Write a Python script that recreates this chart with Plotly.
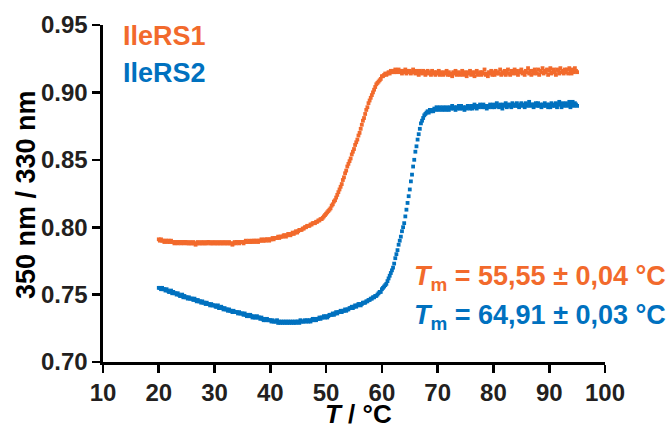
import plotly.graph_objects as go

# Temperature sampling grid of the measurement (°C)
TEMP_START = 20.0
TEMP_STEP = 0.2

# 350 nm / 330 nm ratio, IleRS1 (one row per °C, 20.0 ... 95.0)
ileRS1 = [
    0.791, 0.790, 0.791, 0.790, 0.790,
    0.789, 0.790, 0.790, 0.789, 0.790,
    0.789, 0.790, 0.789, 0.789, 0.788,
    0.789, 0.789, 0.788, 0.789, 0.789,
    0.788, 0.789, 0.789, 0.788, 0.789,
    0.789, 0.788, 0.788, 0.789, 0.788,
    0.788, 0.789, 0.788, 0.787, 0.788,
    0.789, 0.788, 0.788, 0.789, 0.788,
    0.788, 0.789, 0.788, 0.788, 0.789,
    0.789, 0.788, 0.788, 0.789, 0.788,
    0.788, 0.789, 0.788, 0.788, 0.789,
    0.788, 0.788, 0.789, 0.788, 0.788,
    0.789, 0.788, 0.788, 0.789, 0.788,
    0.788, 0.787, 0.788, 0.789, 0.788,
    0.789, 0.789, 0.788, 0.789, 0.789,
    0.789, 0.788, 0.789, 0.790, 0.789,
    0.789, 0.790, 0.789, 0.789, 0.790,
    0.790, 0.789, 0.790, 0.790, 0.789,
    0.790, 0.790, 0.791, 0.790, 0.790,
    0.791, 0.790, 0.791, 0.791, 0.790,
    0.791, 0.791, 0.792, 0.791, 0.792,
    0.792, 0.792, 0.793, 0.792, 0.793,
    0.793, 0.793, 0.794, 0.794, 0.793,
    0.794, 0.795, 0.795, 0.794, 0.795,
    0.796, 0.795, 0.796, 0.797, 0.796,
    0.797, 0.798, 0.798, 0.798, 0.799,
    0.799, 0.800, 0.800, 0.801, 0.801,
    0.801, 0.802, 0.802, 0.803, 0.803,
    0.803, 0.804, 0.804, 0.805, 0.805,
    0.806, 0.806, 0.807, 0.808, 0.809,
    0.810, 0.811, 0.812, 0.813, 0.814,
    0.816, 0.817, 0.819, 0.820, 0.822,
    0.824, 0.826, 0.828, 0.830, 0.832,
    0.835, 0.837, 0.840, 0.842, 0.845,
    0.847, 0.849, 0.851, 0.854, 0.856,
    0.858, 0.861, 0.863, 0.865, 0.868,
    0.870, 0.873, 0.876, 0.879, 0.881,
    0.884, 0.887, 0.889, 0.892, 0.894,
    0.896, 0.898, 0.900, 0.902, 0.904,
    0.906, 0.907, 0.908, 0.909, 0.910,
    0.912, 0.912, 0.913, 0.914, 0.913,
    0.914, 0.915, 0.914, 0.916, 0.915,
    0.916, 0.915, 0.917, 0.915, 0.916,
    0.917, 0.915, 0.916, 0.914, 0.916,
    0.915, 0.917, 0.914, 0.916, 0.915,
    0.916, 0.914, 0.915, 0.917, 0.915,
    0.914, 0.916, 0.915, 0.913, 0.916,
    0.915, 0.914, 0.916, 0.915, 0.913,
    0.915, 0.916, 0.914, 0.915, 0.913,
    0.916, 0.914, 0.915, 0.913, 0.915,
    0.914, 0.916, 0.913, 0.915, 0.914,
    0.913, 0.915, 0.914, 0.916, 0.913,
    0.915, 0.913, 0.914, 0.912, 0.915,
    0.914, 0.916, 0.913, 0.914, 0.915,
    0.913, 0.914, 0.916, 0.913, 0.915,
    0.914, 0.912, 0.915, 0.914, 0.916,
    0.913, 0.915, 0.914, 0.912, 0.915,
    0.916, 0.913, 0.914, 0.915, 0.913,
    0.915, 0.914, 0.917, 0.913, 0.914,
    0.912, 0.915, 0.914, 0.916, 0.913,
    0.915, 0.913, 0.916, 0.914, 0.915,
    0.914, 0.917, 0.913, 0.915, 0.914,
    0.916, 0.913, 0.915, 0.917, 0.914,
    0.913, 0.916, 0.914, 0.915, 0.917,
    0.914, 0.916, 0.913, 0.915, 0.916,
    0.917, 0.914, 0.915, 0.913, 0.916,
    0.915, 0.918, 0.914, 0.916, 0.913,
    0.916, 0.914, 0.917, 0.915, 0.914,
    0.917, 0.913, 0.916, 0.915, 0.918,
    0.914, 0.916, 0.915, 0.917, 0.913,
    0.916, 0.918, 0.914, 0.915, 0.917,
    0.915, 0.913, 0.917, 0.916, 0.914,
    0.918, 0.915, 0.916, 0.914, 0.917,
    0.915, 0.917, 0.914, 0.918, 0.916,
    0.914, 0.917, 0.915, 0.918, 0.916,
    0.915,
]

# 350 nm / 330 nm ratio, IleRS2 (one row per °C, 20.0 ... 95.0)
ileRS2 = [
    0.755, 0.755, 0.754, 0.755, 0.754,
    0.754, 0.753, 0.754, 0.753, 0.752,
    0.752, 0.753, 0.751, 0.752, 0.751,
    0.751, 0.750, 0.751, 0.750, 0.749,
    0.749, 0.750, 0.748, 0.749, 0.748,
    0.748, 0.747, 0.748, 0.747, 0.747,
    0.747, 0.746, 0.747, 0.746, 0.745,
    0.746, 0.745, 0.745, 0.744, 0.745,
    0.744, 0.744, 0.743, 0.744, 0.743,
    0.743, 0.742, 0.743, 0.742, 0.742,
    0.742, 0.741, 0.741, 0.742, 0.740,
    0.740, 0.741, 0.740, 0.739, 0.740,
    0.739, 0.739, 0.738, 0.739, 0.738,
    0.738, 0.737, 0.738, 0.737, 0.737,
    0.737, 0.736, 0.737, 0.736, 0.736,
    0.736, 0.735, 0.736, 0.735, 0.734,
    0.735, 0.734, 0.735, 0.734, 0.733,
    0.734, 0.733, 0.733, 0.734, 0.733,
    0.733, 0.732, 0.733, 0.732, 0.731,
    0.732, 0.731, 0.732, 0.731, 0.731,
    0.731, 0.730, 0.731, 0.730, 0.730,
    0.730, 0.731, 0.729, 0.730, 0.729,
    0.730, 0.729, 0.730, 0.729, 0.730,
    0.729, 0.730, 0.729, 0.730, 0.729,
    0.730, 0.729, 0.730, 0.729, 0.730,
    0.730, 0.729, 0.731, 0.730, 0.730,
    0.730, 0.731, 0.730, 0.731, 0.730,
    0.731, 0.730, 0.731, 0.732, 0.731,
    0.732, 0.731, 0.732, 0.732, 0.733,
    0.732, 0.733, 0.733, 0.734, 0.733,
    0.734, 0.733, 0.734, 0.735, 0.735,
    0.735, 0.736, 0.735, 0.736, 0.737,
    0.736, 0.737, 0.737, 0.738, 0.737,
    0.738, 0.738, 0.739, 0.738, 0.739,
    0.739, 0.740, 0.740, 0.741, 0.740,
    0.741, 0.742, 0.741, 0.742, 0.743,
    0.743, 0.742, 0.743, 0.744, 0.744,
    0.744, 0.745, 0.745, 0.746, 0.746,
    0.747, 0.747, 0.748, 0.748, 0.749,
    0.749, 0.750, 0.751, 0.752, 0.752,
    0.754, 0.755, 0.756, 0.757, 0.758,
    0.760, 0.762, 0.764, 0.766, 0.768,
    0.770, 0.773, 0.777, 0.780, 0.783,
    0.787, 0.790, 0.793, 0.797, 0.800,
    0.803, 0.808, 0.813, 0.818, 0.823,
    0.828, 0.834, 0.839, 0.845, 0.850,
    0.856, 0.860, 0.865, 0.869, 0.873,
    0.877, 0.879, 0.881, 0.883, 0.884,
    0.885, 0.886, 0.885, 0.887, 0.886,
    0.887, 0.886, 0.888, 0.887, 0.889,
    0.888, 0.887, 0.889, 0.888, 0.887,
    0.889, 0.888, 0.887, 0.889, 0.888,
    0.887, 0.889, 0.888, 0.890, 0.888,
    0.889, 0.887, 0.889, 0.888, 0.890,
    0.888, 0.890, 0.888, 0.889, 0.887,
    0.889, 0.888, 0.890, 0.889, 0.888,
    0.890, 0.888, 0.889, 0.891, 0.889,
    0.888, 0.890, 0.889, 0.891, 0.890,
    0.889, 0.891, 0.889, 0.890, 0.888,
    0.890, 0.889, 0.891, 0.890, 0.889,
    0.891, 0.889, 0.890, 0.892, 0.890,
    0.889, 0.891, 0.890, 0.888, 0.891,
    0.890, 0.892, 0.889, 0.891, 0.890,
    0.891, 0.889, 0.892, 0.890, 0.891,
    0.890, 0.892, 0.890, 0.889, 0.891,
    0.892, 0.890, 0.891, 0.889, 0.892,
    0.890, 0.891, 0.893, 0.890, 0.891,
    0.891, 0.889, 0.891, 0.892, 0.890,
    0.892, 0.890, 0.891, 0.889, 0.891,
    0.890, 0.892, 0.890, 0.891, 0.889,
    0.891, 0.889, 0.892, 0.890, 0.891,
    0.890, 0.892, 0.889, 0.891, 0.893,
    0.891, 0.889, 0.892, 0.890, 0.891,
    0.892, 0.890, 0.891, 0.893, 0.889,
    0.891, 0.893, 0.890, 0.892, 0.891,
    0.890,
]

series_names = ["IleRS1", "IleRS2"]
tm_labels = ["55,55 ± 0,04 °C", "64,91 ± 0,03 °C"]
x_ticks = [10, 20, 30, 40, 50, 60, 70, 80, 90, 100]
y_ticks = [0.70, 0.75, 0.80, 0.85, 0.90, 0.95]
x_title = "<i>T</i> / °C"
y_title = "350 nm / 330 nm"

ORANGE = "#F26A2C"
BLUE = "#0071BF"
TEXT = "#231F20"
FONT = "Liberation Sans, Arial, sans-serif"

temps1 = [round(TEMP_START + TEMP_STEP * i, 1) for i in range(len(ileRS1))]
temps2 = [round(TEMP_START + TEMP_STEP * i, 1) for i in range(len(ileRS2))]

fig = go.Figure()
for name, xs, ys, col in [(series_names[0], temps1, ileRS1, ORANGE),
                          (series_names[1], temps2, ileRS2, BLUE)]:
    fig.add_trace(go.Scatter(
        x=xs, y=ys, mode="markers", name=name,
        marker=dict(color=col, size=3.8, symbol="square", line=dict(width=0)),
        showlegend=False, cliponaxis=False,
    ))

axis_common = dict(
    showgrid=False, zeroline=False, showline=True, linecolor="black",
    linewidth=2.6, ticks="outside", ticklen=8, tickwidth=2.6, tickcolor="black",
    tickfont=dict(family=FONT, size=24, color=TEXT, weight="bold"),
    mirror=False, automargin=False,
)

# plot area: l=103, r=66, t=25, b=67  -> width 502, height 337
fig.update_layout(
    width=671, height=429,
    margin=dict(l=103, r=66, t=25, b=67, autoexpand=False),
    paper_bgcolor="white", plot_bgcolor="white",
    font=dict(family=FONT, color=TEXT),
    xaxis=dict(range=[10, 100], tickvals=x_ticks, **axis_common),
    yaxis=dict(range=[0.70, 0.95], tickvals=y_ticks, tickformat=".2f", **axis_common),
)

W, H = 502.0, 337.0
def px(xp):
    return (xp - 103) / W
def py(yp):
    return (362 - yp) / H

fig.add_annotation(xref="paper", yref="paper", x=px(358), y=py(414),
                   xanchor="center", yanchor="middle", showarrow=False,
                   borderpad=0, text="<b>%s</b>" % x_title,
                   font=dict(family=FONT, size=26, color="black"))
fig.add_annotation(xref="paper", yref="paper", x=px(26), y=py(195),
                   xanchor="center", yanchor="middle", showarrow=False,
                   textangle=-90, text="<b>%s</b>" % y_title,
                   font=dict(family=FONT, size=27, color="black"))

ann_font = dict(family=FONT, size=27)
fig.add_annotation(xref="paper", yref="paper", x=px(121), y=py(36),
                   xanchor="left", yanchor="middle", showarrow=False,
                   text="<b>%s</b>" % series_names[0],
                   font=dict(color=ORANGE, **ann_font))
fig.add_annotation(xref="paper", yref="paper", x=px(121), y=py(73),
                   xanchor="left", yanchor="middle", showarrow=False,
                   text="<b>%s</b>" % series_names[1],
                   font=dict(color=BLUE, **ann_font))
fig.add_annotation(xref="paper", yref="paper", x=px(668), y=py(278),
                   xanchor="right", yanchor="middle", showarrow=False,
                   text="<b><i>T</i><sub>m</sub> = %s</b>" % tm_labels[0],
                   font=dict(color=ORANGE, **ann_font))
fig.add_annotation(xref="paper", yref="paper", x=px(668), y=py(317),
                   xanchor="right", yanchor="middle", showarrow=False,
                   text="<b><i>T</i><sub>m</sub> = %s</b>" % tm_labels[1],
                   font=dict(color=BLUE, **ann_font))

# remove the browser's default 8px page margin so the figure sits at (0, 0)
fig.write_html("out.html",
               config={"displayModeBar": False, "staticPlot": True},
               post_script="document.body.style.margin='0px';"
                           "document.body.style.padding='0px';")
